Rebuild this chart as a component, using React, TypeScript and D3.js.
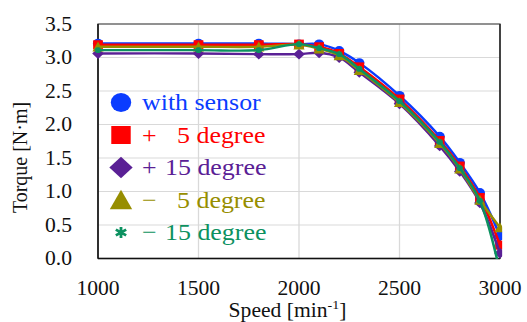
import React from "react";
import * as d3 from "d3";

// horizontal stretch of the original picture
const SX = 1.08;
const W = 527;
const H = 322;
const VW = W / SX;

const speeds = [1000, 1500, 1800, 2000, 2100, 2200, 2300, 2500, 2700, 2800, 2900, 3000];

const withSensor = [3.21, 3.21, 3.21, 3.2, 3.2, 3.1, 2.92, 2.43, 1.82, 1.43, 0.98, 0.34];
const plus5 = [3.19, 3.19, 3.19, 3.2, 3.16, 3.06, 2.86, 2.38, 1.76, 1.38, 0.91, 0.2];
const plus15 = [3.06, 3.06, 3.05, 3.05, 3.07, 3.0, 2.78, 2.31, 1.68, 1.3, 0.83, 0.08];
const minus5 = [3.16, 3.16, 3.16, 3.19, 3.13, 3.03, 2.81, 2.33, 1.72, 1.34, 0.87, 0.46];
const minus15 = [3.11, 3.11, 3.11, 3.2, 3.14, 3.05, 2.83, 2.35, 1.74, 1.35, 0.86, -0.2];

const yTicks = [0, 0.5, 1, 1.5, 2, 2.5, 3, 3.5];
const xTicks = [1000, 1500, 2000, 2500, 3000];

const series = [
  { sign: "", num: "with sensor", values: withSensor, color: "#0a3cff", shape: "circle" },
  { sign: "+", num: "5 degree", values: plus5, color: "#ff0000", shape: "square" },
  { sign: "+", num: "15 degree", values: plus15, color: "#5a2095", shape: "diamond" },
  { sign: "\u2212", num: "5 degree", values: minus5, color: "#978e00", shape: "triangle" },
  { sign: "\u2212", num: "15 degree", values: minus15, color: "#0c9160", shape: "star" },
];

const font = "'Liberation Serif', 'Times New Roman', serif";

const left = 98 / SX,
  right = 500 / SX,
  top = 24,
  bottom = 258.5;

const x = d3.scaleLinear().domain([1000, 3000]).range([left, right]);
const y = d3.scaleLinear().domain([0, 3.5]).range([bottom, top]);

function Marker({ shape, cx, cy, s, color }) {
  // s = size (height in px)
  const h = s / 2;
  if (shape === "circle") return <circle cx={cx} cy={cy} r={h * 1.05} fill={color} />;
  if (shape === "square")
    return <rect x={cx - h} y={cy - h} width={s} height={s} fill={color} />;
  if (shape === "diamond") {
    const r = h * 1.2;
    return (
      <path d={`M${cx},${cy - r}L${cx + r},${cy}L${cx},${cy + r}L${cx - r},${cy}Z`} fill={color} />
    );
  }
  if (shape === "triangle") {
    const r = h * 1.15;
    return (
      <path d={`M${cx},${cy - r}L${cx + r},${cy + r * 0.9}L${cx - r},${cy + r * 0.9}Z`} fill={color} />
    );
  }
  const r = h * 0.65;
  const dx = r * Math.cos(Math.PI / 6),
    dy = r * Math.sin(Math.PI / 6);
  return (
    <path
      d={`M${cx},${cy - r}L${cx},${cy + r}M${cx - dx},${cy - dy}L${cx + dx},${cy + dy}M${cx - dx},${cy + dy}L${cx + dx},${cy - dy}`}
      stroke={color}
      strokeWidth={2.6}
      fill="none"
    />
  );
}

export default function App() {
  const line = d3
    .line<number>()
    .x((d, i) => x(speeds[i]))
    .y((d) => y(d))
    .curve(d3.curveCatmullRom.alpha(0.5));

  return (
    <div style={{ position: "fixed", left: 0, top: 0 }}>
      <svg
        width={W}
        height={H}
        viewBox={`0 0 ${VW} ${H}`}
        preserveAspectRatio="none"
        style={{ display: "block", background: "#fff" }}
        fontFamily={font}
      >
        <defs>
          <clipPath id="plotClip">
            <rect x={left - 10} y={top - 10} width={right - left + 12} height={bottom - top + 10.5} />
          </clipPath>
        </defs>

        {/* grid */}
        {yTicks.map((t) => (
          <line key={"gy" + t} x1={left} x2={right} y1={y(t)} y2={y(t)} stroke="#d9d9d9" strokeWidth={1.2} />
        ))}
        {xTicks.slice(1, -1).map((t) => (
          <line key={"gx" + t} x1={x(t)} x2={x(t)} y1={top} y2={bottom} stroke="#d9d9d9" strokeWidth={1.2} />
        ))}
        <rect x={left} y={top} width={right - left} height={bottom - top} fill="none" stroke="#555" strokeWidth={1.2} />
        <line x1={left} x2={left} y1={top} y2={bottom} stroke="#111" strokeWidth={1.4} />
        <line x1={left} x2={right} y1={bottom} y2={bottom} stroke="#111" strokeWidth={1.4} />
        <line x1={right} x2={right} y1={top} y2={bottom} stroke="#222" strokeWidth={1.3} />

        {/* tick labels */}
        {yTicks.map((t) => (
          <text key={"ty" + t} x={72 / SX} y={y(t) + 7} textAnchor="end" fontSize={20} fill="#111">
            {d3.format(".1f")(t)}
          </text>
        ))}
        {xTicks.map((t) => (
          <text key={"tx" + t} x={x(t)} y={295} textAnchor="middle" fontSize={20} fill="#111">
            {t}
          </text>
        ))}

        {/* axis titles */}
        <text x={287.5 / SX} y={317.5} textAnchor="middle" fontSize={20} fill="#111">
          Speed [min<tspan dy={-8} fontSize={13}>-1</tspan>
          <tspan dy={8}>]</tspan>
        </text>
        <text
          transform={`translate(${27 / SX},157.5) rotate(-90)`}
          textAnchor="middle"
          fontSize={20}
          fill="#111"
        >
          Torque [N·m]
        </text>

        {/* series */}
        <g clipPath="url(#plotClip)">
          {series.map((s) => (
            <g key={s.num + s.sign}>
              <path d={line(s.values) || ""} fill="none" stroke={s.color} strokeWidth={2.4} />
              {s.values.map((v, i) => (
                <Marker key={i} shape={s.shape} cx={x(speeds[i])} cy={y(v)} s={9} color={s.color} />
              ))}
            </g>
          ))}
        </g>

        {/* legend */}
        {series.map((s, i) => {
          const cy = 102.5 + i * 32.5;
          const numX = s.sign === "" ? 142 : s.num.startsWith("15") ? 165 : 177;
          return (
            <g key={"lg" + i} fill={s.color}>
              <Marker shape={s.shape} cx={121 / SX} cy={cy} s={s.shape === "star" ? 17 : 18} color={s.color} />
              {s.sign && (
                <text x={142 / SX} y={cy + 8} fontSize={24}>
                  {s.sign}
                </text>
              )}
              <text x={numX / SX} y={cy + 8} fontSize={24}>
                {s.num}
              </text>
            </g>
          );
        })}
      </svg>
    </div>
  );
}
